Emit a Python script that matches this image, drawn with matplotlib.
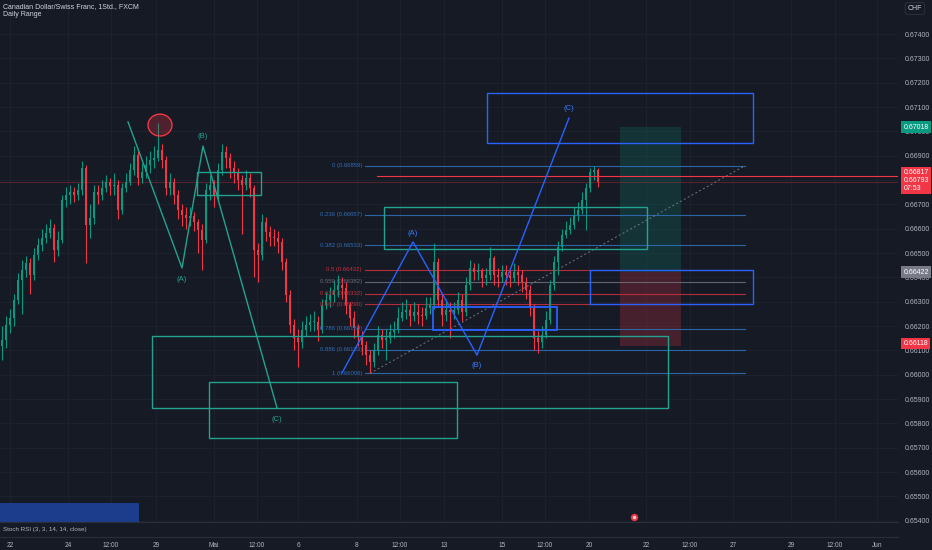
import matplotlib
matplotlib.use('Agg')
import matplotlib.pyplot as plt
from matplotlib.patches import Rectangle, Ellipse
import numpy as np

plt.rcParams['font.family'] = ['Liberation Sans', 'DejaVu Sans']

BG = '#161a25'
GRID = '#1f2330'
TXT = '#b2b5be'
UP = '#089981'
DN = '#f23645'
TEAL = '#22a38f'
BLUE = '#2962ff'

# ---------------- data (CADCHF, 1h) ----------------
first_open = 0.66120
closes = [0.66143, 0.66204, 0.66233, 0.66307, 0.66389, 0.66430, 0.66459, 0.66410, 0.66492, 0.66533,
          0.66562, 0.66582, 0.66603, 0.66513, 0.66554, 0.66718, 0.66739, 0.66751, 0.66739, 0.66759,
          0.66850, 0.66615, 0.66644, 0.66751, 0.66739, 0.66767, 0.66792, 0.66776, 0.66780, 0.66677,
          0.66767, 0.66792, 0.66841, 0.66903, 0.66808, 0.66833, 0.66862, 0.66882, 0.66891, 0.66924,
          0.66882, 0.66767, 0.66792, 0.66739, 0.66677, 0.66656, 0.66644, 0.66652, 0.66628, 0.66595,
          0.66554, 0.66759, 0.66780, 0.66739, 0.66841, 0.66915, 0.66891, 0.66850, 0.66833, 0.66800,
          0.66780, 0.66808, 0.66767, 0.66513, 0.66492, 0.66628, 0.66587, 0.66566, 0.66562, 0.66546,
          0.66463, 0.66328, 0.66204, 0.66151, 0.66135, 0.66184, 0.66204, 0.66217, 0.66217, 0.66184,
          0.66287, 0.66307, 0.66328, 0.66348, 0.66369, 0.66356, 0.66287, 0.66233, 0.66192, 0.66155,
          0.66122, 0.66081, 0.66052, 0.66102, 0.66163, 0.66143, 0.66151, 0.66176, 0.66184, 0.66233,
          0.66258, 0.66266, 0.66241, 0.66258, 0.66245, 0.66241, 0.66274, 0.66287, 0.66463, 0.66307,
          0.66245, 0.66266, 0.66258, 0.66266, 0.66307, 0.66258, 0.66369, 0.66439, 0.66422, 0.66430,
          0.66397, 0.66410, 0.66480, 0.66410, 0.66401, 0.66422, 0.66410, 0.66397, 0.66422, 0.66410,
          0.66381, 0.66348, 0.66274, 0.66151, 0.66135, 0.66163, 0.66225, 0.66369, 0.66463, 0.66525,
          0.66574, 0.66595, 0.66615, 0.66656, 0.66677, 0.66718, 0.66767, 0.66833, 0.66841, 0.66793]
highs = [0.66200, 0.66240, 0.66270, 0.66330, 0.66420, 0.66470, 0.66490, 0.66480, 0.66520, 0.66560,
         0.66600, 0.66620, 0.66640, 0.66620, 0.66590, 0.66740, 0.66770, 0.66780, 0.66770, 0.66790,
         0.66880, 0.66860, 0.66700, 0.66780, 0.66780, 0.66800, 0.66820, 0.66810, 0.66830, 0.66800,
         0.66790, 0.66830, 0.66870, 0.66940, 0.66920, 0.66870, 0.66900, 0.66920, 0.66940, 0.67034,
         0.66950, 0.66900, 0.66830, 0.66810, 0.66760, 0.66700, 0.66690, 0.66690, 0.66670, 0.66640,
         0.66620, 0.66790, 0.66820, 0.66800, 0.66870, 0.66950, 0.66940, 0.66910, 0.66880, 0.66850,
         0.66820, 0.66840, 0.66830, 0.66780, 0.66540, 0.66660, 0.66650, 0.66610, 0.66600, 0.66590,
         0.66560, 0.66480, 0.66350, 0.66230, 0.66190, 0.66220, 0.66240, 0.66250, 0.66260, 0.66240,
         0.66310, 0.66340, 0.66360, 0.66390, 0.66410, 0.66400, 0.66380, 0.66300, 0.66260, 0.66210,
         0.66180, 0.66140, 0.66100, 0.66130, 0.66200, 0.66190, 0.66190, 0.66210, 0.66220, 0.66280,
         0.66300, 0.66310, 0.66290, 0.66300, 0.66290, 0.66280, 0.66320, 0.66320, 0.66541, 0.66480,
         0.66330, 0.66310, 0.66300, 0.66300, 0.66340, 0.66330, 0.66400, 0.66470, 0.66460, 0.66460,
         0.66440, 0.66440, 0.66525, 0.66490, 0.66440, 0.66450, 0.66450, 0.66440, 0.66460, 0.66450,
         0.66430, 0.66400, 0.66370, 0.66290, 0.66180, 0.66200, 0.66260, 0.66390, 0.66490, 0.66550,
         0.66600, 0.66630, 0.66650, 0.66690, 0.66710, 0.66750, 0.66790, 0.66850, 0.66859, 0.66850]
lows = [0.66060, 0.66110, 0.66170, 0.66200, 0.66290, 0.66250, 0.66400, 0.66330, 0.66390, 0.66470,
        0.66510, 0.66540, 0.66560, 0.66463, 0.66490, 0.66540, 0.66690, 0.66700, 0.66710, 0.66720,
        0.66740, 0.66460, 0.66560, 0.66620, 0.66700, 0.66720, 0.66750, 0.66740, 0.66740, 0.66640,
        0.66660, 0.66750, 0.66780, 0.66820, 0.66780, 0.66790, 0.66810, 0.66830, 0.66850, 0.66880,
        0.66850, 0.66740, 0.66740, 0.66700, 0.66640, 0.66610, 0.66600, 0.66610, 0.66590, 0.66500,
        0.66430, 0.66540, 0.66720, 0.66690, 0.66720, 0.66820, 0.66850, 0.66810, 0.66790, 0.66760,
        0.66580, 0.66760, 0.66730, 0.66401, 0.66380, 0.66470, 0.66550, 0.66530, 0.66530, 0.66500,
        0.66430, 0.66300, 0.66170, 0.66100, 0.66031, 0.66110, 0.66160, 0.66180, 0.66180, 0.66140,
        0.66170, 0.66270, 0.66280, 0.66300, 0.66320, 0.66310, 0.66250, 0.66200, 0.66150, 0.66120,
        0.66080, 0.66040, 0.66006, 0.66030, 0.66080, 0.66110, 0.66061, 0.66130, 0.66150, 0.66170,
        0.66220, 0.66230, 0.66200, 0.66220, 0.66210, 0.66200, 0.66230, 0.66250, 0.66270, 0.66280,
        0.66200, 0.66220, 0.66151, 0.66230, 0.66250, 0.66220, 0.66240, 0.66350, 0.66390, 0.66390,
        0.66360, 0.66370, 0.66390, 0.66370, 0.66360, 0.66380, 0.66370, 0.66360, 0.66380, 0.66370,
        0.66340, 0.66310, 0.66240, 0.66102, 0.66089, 0.66110, 0.66150, 0.66210, 0.66350, 0.66410,
        0.66510, 0.66560, 0.66580, 0.66600, 0.66630, 0.66660, 0.66595, 0.66750, 0.66800, 0.66770]
opens = [first_open] + closes[:-1]

time_tick_pos = [10, 68, 111, 156, 214, 257, 298, 357, 400, 444, 502, 545, 589, 646, 690, 733, 791, 835, 877]
time_tick_labels = ['22', '24', '12:00', '29', 'Mai', '12:00', '6', '8', '12:00', '13', '15', '12:00',
                    '20', '22', '12:00', '27', '29', '12:00', 'Jun']
price_ticks = [0.654, 0.655, 0.656, 0.657, 0.658, 0.659, 0.660, 0.661, 0.662, 0.663,
               0.664, 0.665, 0.666, 0.667, 0.668, 0.669, 0.670, 0.671, 0.672, 0.673, 0.674]
# tick labels hidden behind the axis price labels in the reference
hidden_ticks = [0.668]

fib_ratios = ['0', '0.236', '0.382', '0.5', '0.559', '0.618', '0.667', '0.786', '0.886', '1']
fib_prices = [0.66859, 0.66657, 0.66533, 0.66432, 0.66382, 0.66332, 0.66290, 0.66189, 0.66103, 0.66006]
fib_colors = ['#2f6db5', '#2f6db5', '#2f6db5', '#c2303c', '#6a6d78', '#c2303c', '#c2303c',
              '#2f6db5', '#2f6db5', '#2f6db5']

# ---------------- figure ----------------
W, H = 932, 550
fig = plt.figure(figsize=(W / 100, H / 100), dpi=100, facecolor=BG)
ax = fig.add_axes([0, 28 / H, 898 / W, 522 / H], facecolor=BG)
ax.set_xlim(0, 898)
ax.set_ylim(0.65395, 0.67540)
for s in ax.spines.values():
    s.set_visible(False)

# grid
for p in price_ticks:
    ax.axhline(p, color=GRID, lw=0.6, zorder=0)
for x in time_tick_pos:
    ax.axvline(x, color=GRID, lw=0.6, zorder=0)

ax.yaxis.tick_right()
ax.set_yticks(price_ticks)
ax.set_yticklabels(['' if p in hidden_ticks else '%.5f' % p for p in price_ticks])
ax.tick_params(axis='y', length=0, pad=5, labelsize=5, labelcolor=TXT)
ax.set_xticks([])

# candles
bar_x = [2 + 4 * i for i in range(len(closes))]
cols = [UP if c >= o else DN for o, c in zip(opens, closes)]
ax.vlines(bar_x, lows, highs, colors=cols, lw=0.8, zorder=3)
bottoms = [min(o, c) for o, c in zip(opens, closes)]
heights = [max(abs(c - o), 0.00002) for o, c in zip(opens, closes)]
ax.bar(bar_x, heights, bottom=bottoms, width=2.8, color=cols, zorder=4, linewidth=0)

# current price line & horizontal ray
ax.axhline(0.66793, color=DN, lw=0.6, alpha=0.35, zorder=2)
ax.plot([377, 898], [0.66817, 0.66817], color=DN, lw=0.8, zorder=5)

# fib retracement
for lab, p, c in zip(fib_ratios, fib_prices, fib_colors):
    ax.plot([365, 745], [p, p], color=c, lw=0.8, zorder=2, alpha=0.9)
    ax.text(362, p, '%s (%.5f)' % (lab, p), color=c, fontsize=4.3, ha='right', va='center', zorder=6)
ax.plot([370, 745], [0.66006, 0.66859], color='#8a8d96', lw=0.7, ls=(0, (2, 2.5)), zorder=2, alpha=0.8)

# rectangles
def box(x0, x1, p0, p1, color, lw=1.0):
    ax.add_patch(Rectangle((x0, p0), x1 - x0, p1 - p0, fill=False, ec=color, lw=lw, zorder=5))

box(152, 668, 0.65864, 0.66159, TEAL)
box(209, 457, 0.65740, 0.65970, TEAL)
box(197, 261, 0.66739, 0.66833, TEAL)
box(384, 647, 0.66517, 0.66689, TEAL)
box(433, 557, 0.66184, 0.66279, BLUE, 1.3)
box(590, 753, 0.66291, 0.66431, BLUE)
box(487, 753, 0.66952, 0.67158, BLUE)

# long position
entry, target, stop = 0.66422, 0.67018, 0.66118
ax.add_patch(Rectangle((620, entry), 61, target - entry, fc=UP, alpha=0.2, ec='none', zorder=1))
ax.add_patch(Rectangle((620, stop), 61, entry - stop, fc=DN, alpha=0.22, ec='none', zorder=1))

# elliott waves
ax.plot([128, 182, 203, 277], [0.67039, 0.66439, 0.66940, 0.65864], color=TEAL, lw=1.0, zorder=6)
for t, x, p in [('(A)', 182, 0.66393), ('(B)', 203, 0.66981), ('(C)', 277, 0.65818)]:
    ax.text(x, p, t, color=TEAL, fontsize=5.5, ha='center', va='center', zorder=7)
ax.plot([342, 413, 477, 569], [0.66007, 0.66546, 0.66081, 0.67055], color=BLUE, lw=1.0, zorder=6)
for t, x, p in [('(A)', 413, 0.66582), ('(B)', 477, 0.66040), ('(C)', 569, 0.67096)]:
    ax.text(x, p, t, color='#3d7bff', fontsize=5.5, ha='center', va='center', zorder=7)

# red circle on the top
ax.add_patch(Ellipse((160, 0.67026), 24, 0.00090, fc=DN, alpha=0.25, ec='none', zorder=6))
ax.add_patch(Ellipse((160, 0.67026), 24, 0.00090, fill=False, ec=DN, lw=1.0, zorder=6))

# bottom-left indicator block
ax.add_patch(Rectangle((0, 0.65395), 139, 0.65473 - 0.65395, fc='#1c3d8c', ec='none', zorder=2))
# event marker
ax.scatter([634], [0.65414], s=28, c=DN, zorder=8, linewidths=0)
ax.scatter([634], [0.65414], s=6, c='#d8d8d8', zorder=9, linewidths=0)

# header
fig.text(3 / W, 1 - 7 / H, 'Canadian Dollar/Swiss Franc, 1Std., FXCM', color='#d1d4dc', fontsize=5, va='center')
fig.text(3 / W, 1 - 15 / H, 'Daily Range', color='#d1d4dc', fontsize=5, va='center')

# axis price labels
ytr = ax.get_yaxis_transform()
def plabel(p, s, fc, tc='white'):
    ax.text(1.006, p, s, transform=ytr, fontsize=5, color=tc, va='center', ha='left', clip_on=False,
            zorder=10, bbox=dict(boxstyle='square,pad=0.3', fc=fc, ec='none'))

plabel(target, '0.67018', UP)
plabel(0.66800, '0.66817\n0.66793\n07:53', DN)
plabel(entry, '0.66422', '#787b86')
plabel(0.66130, '0.66118', DN)
fig.text(915 / W, 1 - 8.5 / H, 'CHF', color='#d1d4dc', fontsize=5, ha='center', va='center',
         bbox=dict(boxstyle='round,pad=0.35,rounding_size=0.3', fc=BG, ec='#2a2e39', lw=0.8))

# stoch rsi pane + time axis
ax2 = fig.add_axes([0, 13 / H, 898 / W, 15 / H], facecolor=BG)
ax2.set_xlim(0, 898)
ax2.set_ylim(0, 1)
for k, s in ax2.spines.items():
    s.set_visible(k in ('top', 'bottom'))
    s.set_color('#2a2e39')
    s.set_linewidth(0.8)
ax2.set_yticks([])
ax2.set_xticks(time_tick_pos)
ax2.set_xticklabels(time_tick_labels)
ax2.tick_params(axis='x', length=0, pad=3.5, labelsize=4.7, labelcolor=TXT)
ax2.text(3, 0.5, 'Stoch RSI (3, 3, 14, 14, close)', color=TXT, fontsize=4.5, va='center', ha='left')

fig.savefig('out.png', dpi=100, facecolor=BG)
